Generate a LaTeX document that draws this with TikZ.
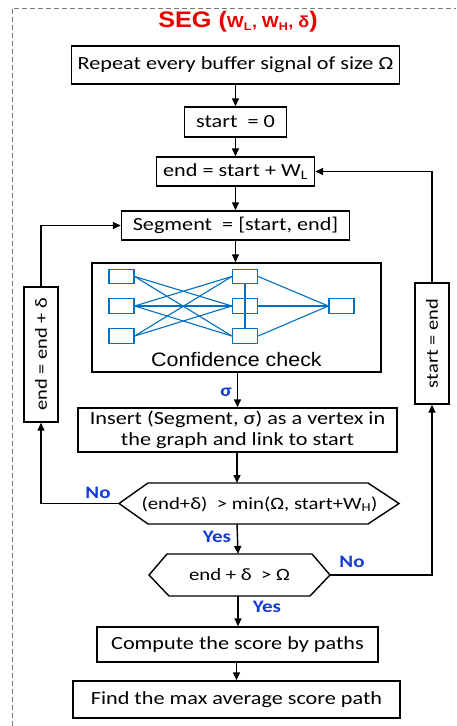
\documentclass[tikz,border=0pt]{standalone}
\usepackage{fontspec}
\setmainfont{Carlito}[FakeStretch=1.2]
\newfontfamily\arialf{Liberation Sans}[FakeStretch=1.1]
\newfontfamily\arialt{Liberation Sans}[FakeStretch=1.12]
\usetikzlibrary{arrows.meta}
\definecolor{segred}{RGB}{232,0,0}
\definecolor{lblblue}{RGB}{20,60,215}
\definecolor{netblue}{RGB}{0,112,192}
\definecolor{framegray}{RGB}{120,120,120}
\tikzset{
  box/.style={draw,line width=1.4pt,inner sep=0pt,align=center,font=\fontsize{18.5}{20.5}\selectfont},
  sidebox/.style={box,font=\fontsize{17}{20}\selectfont},
  hextext/.style={font=\fontsize{17.3}{20}\selectfont,inner sep=0pt},
  flow/.style={line width=1.4pt,-{Triangle[length=8pt,width=7pt]}},
  plain/.style={line width=1.4pt},
  lbl/.style={text=lblblue,font=\fontsize{17.5}{20}\selectfont\bfseries,inner sep=0pt},
  nn/.style={draw=netblue,line width=1.3pt,minimum width=25pt,minimum height=14.5pt,inner sep=0pt},
  nl/.style={draw=netblue,line width=1.1pt},
}
\begin{document}
\begin{tikzpicture}[x=1pt,y=-1pt]
\useasboundingbox (0,0) rectangle (456,726);
\fill[white] (0,0) rectangle (456,726);
% frame
\draw[framegray,line width=1pt,dash pattern=on 5pt off 3pt] (12,726) -- (12,8) -- (456,8);
% title
\node[text=segred,font=\arialt\bfseries,inner sep=0pt] (title) at (238,22)
  {\fontsize{22.5}{24}\selectfont SEG (\fontsize{16}{18}\selectfont W\textsubscript{L}, W\textsubscript{H}, δ\fontsize{22.5}{24}\selectfont)};
% boxes
\node[box,minimum width=328pt,minimum height=38pt] (b1) at (235.5,65) {Repeat every buffer signal of size Ω};
\node[box,minimum width=102pt,minimum height=30pt] (b2) at (235.5,122) {start\ \ = 0};
\node[box,minimum width=158pt,minimum height=29pt] (b3) at (235.5,171.5) {end = start + W\textsubscript{L}};
\node[box,minimum width=228pt,minimum height=29pt] (b4) at (235.5,225.5) {Segment\ \ = [start, end]};
\node[box,minimum width=289pt,minimum height=109pt] (net) at (236.5,317.5) {};
\node[font=\arialf\fontsize{19.5}{20}\selectfont,inner sep=0pt] (cc) at (236.5,360) {Confidence check};
% network
\node[nn] (a1) at (121.5,276.5) {};
\node[nn] (a2) at (121.5,306) {};
\node[nn] (a3) at (121.5,336) {};
\node[nn] (c1) at (245,276.5) {};
\node[nn] (c2) at (245,306) {};
\node[nn] (c3) at (245,336) {};
\node[nn] (o1) at (341.5,306) {};
\draw[nl] (a1.east) -- (c2.west);
\draw[nl] (a1.east) -- (c3.west);
\draw[nl] (a2.east) -- (c1.west);
\draw[nl] (a2.east) -- (c2.west);
\draw[nl] (a2.east) -- (c3.west);
\draw[nl] (a3.east) -- (c1.west);
\draw[nl] (a3.east) -- (c2.west);
\draw[nl] (c1.south) -- (c3.north);
\draw[nl] (c1.east) -- (o1.west);
\draw[nl] (c2.east) -- (o1.west);
\draw[nl] (c3.east) -- (o1.west);
% insert
\node[box,minimum width=319pt,minimum height=44pt] (ins) at (237.5,430) {Insert (Segment, σ) as a vertex in\\the graph and link to start};
% hexagon 1
\coordinate (h1t) at (237,483);
\coordinate (h1b) at (237,524);
\coordinate (h1l) at (119,503.5);
\coordinate (h1r) at (399,503.5);
\draw[plain] (148,483) -- (368,483) -- (h1r) -- (368,524) -- (148,524) -- (h1l) -- cycle;
\node[hextext] (h1) at (259.5,504) {(end+δ)\ \ > min(Ω, start+W\textsubscript{H})};
% hexagon 2
\coordinate (h2t) at (238,554);
\coordinate (h2b) at (238,596);
\coordinate (h2l) at (149,575);
\coordinate (h2r) at (330,575);
\draw[plain] (167,554) -- (312,554) -- (h2r) -- (310,596) -- (169,596) -- (h2l) -- cycle;
\node[hextext] (h2) at (239.5,575) {end + δ\ \ > Ω};
% bottom boxes
\node[box,minimum width=281pt,minimum height=35pt] (cmp) at (237.5,644.5) {Compute the score by paths};
\node[box,minimum width=327pt,minimum height=37pt] (fnd) at (236.5,699.5) {Find the max average score path};
% side boxes
\node[sidebox,rotate=90,minimum width=135pt,minimum height=34pt] (lb) at (41,354.5) {end = end + δ};
\node[sidebox,rotate=90,minimum width=121pt,minimum height=34pt] (rb) at (432,343.5) {start = end};
% main flow
\draw[flow] (b1) -- (b2);
\draw[flow] (b2) -- (b3);
\draw[flow] (b3) -- (b4);
\draw[flow] (b4.south) -- (b4.south |- net.north);
\draw[flow] (net.south -| ins.north) -- (ins.north);
\draw[flow] (ins.south -| h1t) -- (h1t);
\draw[flow] (h1b) -- (h2t);
\draw[flow] (h2b) -- (h2b |- cmp.north);
\draw[flow] (cmp.south -| fnd.north) -- (fnd.north);
% loops
\draw[flow] (h1l) -- (lb.west |- h1l) -- (lb.west);
\draw[flow] (lb.east) -- (lb.east |- b4.west) -- (b4.west);
\draw[flow] (h2r) -- (rb.west |- h2r) -- (rb.west);
\draw[flow] (rb.east) -- (rb.east |- b3.east) -- (b3.east);
% labels
\node[lbl] (sig) at (226,392) {σ};
\node[lbl] (no1) at (98,493) {No};
\node[lbl] (yes1) at (217,537) {Yes};
\node[lbl] (no2) at (352,562) {No};
\node[lbl] (yes2) at (267,607) {Yes};
\end{tikzpicture}
\end{document}
